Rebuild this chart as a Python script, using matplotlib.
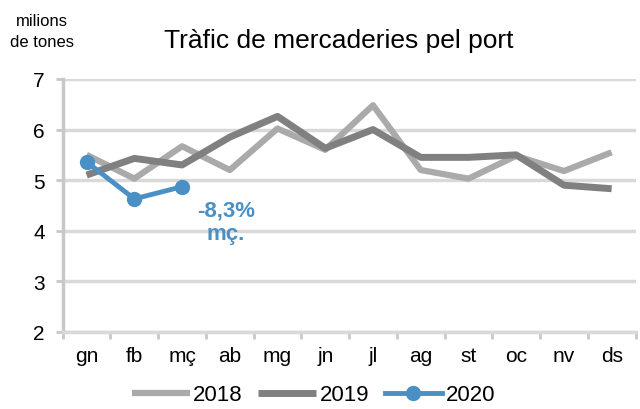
import matplotlib
matplotlib.use("Agg")
import matplotlib.pyplot as plt

plt.rcParams['font.family'] = ['Liberation Sans', 'DejaVu Sans']

# Data (millions of tonnes)
months = ["gn", "fb", "mç", "ab", "mg", "jn", "jl", "ag", "st", "oc", "nv", "ds"]
y2018 = [5.50, 5.03, 5.67, 5.20, 6.02, 5.60, 6.48, 5.20, 5.03, 5.48, 5.18, 5.55]
y2019 = [5.10, 5.43, 5.30, 5.85, 6.26, 5.63, 6.00, 5.45, 5.45, 5.50, 4.90, 4.83]
y2020 = [5.36, 4.63, 4.87]
note = "-8,3%\nmç."

blue = "#4a90c4"
grid = "#d9d9d9"
x = range(len(months))

fig = plt.figure(figsize=(6.4, 4.1), dpi=100)
ax = fig.add_axes([0.098, 0.188, 0.895, 0.617])

ax.plot(x, y2018, color="#aaaaaa", lw=4.5, label="2018", solid_capstyle="butt")
ax.plot(x, y2019, color="#808080", lw=5, label="2019", solid_capstyle="butt")
ax.plot(range(len(y2020)), y2020, color=blue, lw=3.5, marker="o", ms=10,
        label="2020")

ax.text(2.92, 4.18, note, ha="center", va="center", color=blue, fontsize=16,
        fontweight="bold", linespacing=1.15)

ax.set_ylim(2, 7)
ax.set_xlim(-0.5, 11.5)
ax.set_yticks(range(2, 8))
ax.set_xticks(list(x))
ax.set_xticks([i - 0.5 for i in range(len(months) + 1)], minor=True)
ax.set_xticklabels(months)
ax.grid(axis="y", color=grid, lw=2.5)
ax.set_axisbelow(True)
for s in ["top", "right"]:
    ax.spines[s].set_visible(False)
ax.spines["bottom"].set_color(grid)
ax.spines["bottom"].set_linewidth(2.5)
ax.spines["left"].set_color("#c8c8c8")
ax.spines["left"].set_linewidth(2.5)
ax.tick_params(axis="y", length=5, width=2, color="#c8c8c8", labelsize=15, pad=8)
ax.tick_params(axis="x", which="major", length=0, labelsize=15, pad=10)
ax.tick_params(axis="x", which="minor", length=5, width=2, color="#c8c8c8")

fig.text(0.066, 0.922, "milions\nde tones", ha="center", va="center",
         fontsize=12, linespacing=1.45)
fig.text(0.53, 0.9, "Tràfic de mercaderies pel port", ha="center", va="center",
         fontsize=19)

fig.legend(loc="lower center", bbox_to_anchor=(0.49, -0.04), ncol=3, frameon=False,
           fontsize=16, handlelength=2.6, handletextpad=0.15, columnspacing=0.7)

fig.savefig("out.png", dpi=100)
